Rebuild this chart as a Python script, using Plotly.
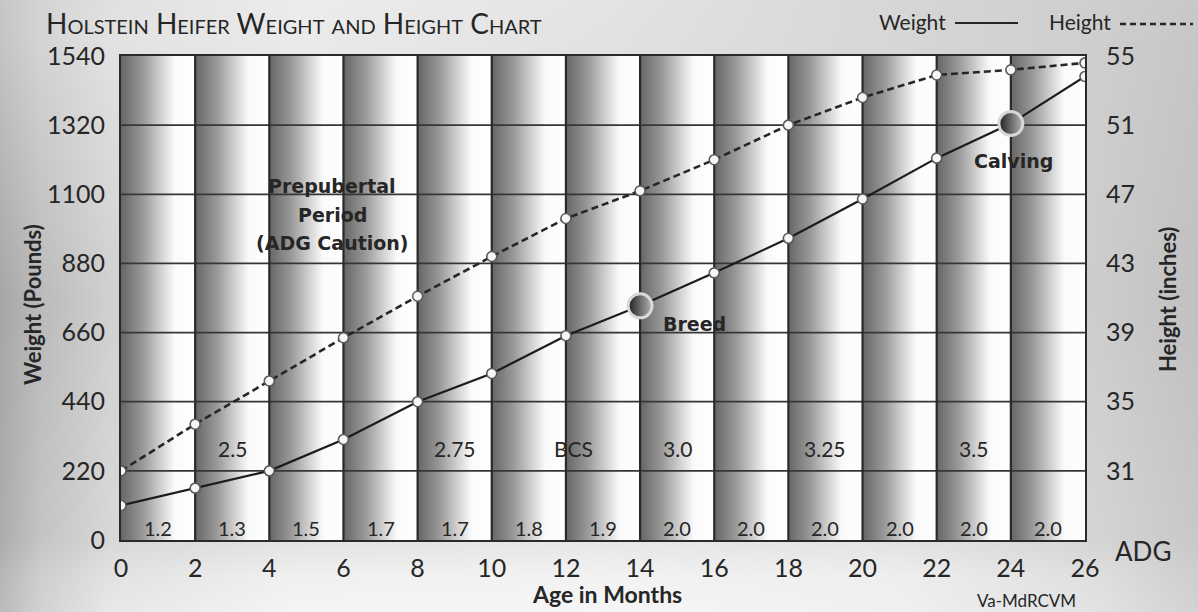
import plotly.graph_objects as go

# ---- data -------------------------------------------------------------
months = [0, 2, 4, 6, 8, 10, 12, 14, 16, 18, 20, 22, 24, 26]
weight_lb = [110, 165, 220, 320, 440, 530, 650, 745, 850, 960, 1085, 1215, 1325, 1475]
height_in = [31.0, 33.7, 36.2, 38.7, 41.1, 43.4, 45.6, 47.2, 49.0, 51.0, 52.6, 53.9, 54.2, 54.6]

# average daily gain (lb/day) for each two-month interval
adg_labels = ["1.2", "1.3", "1.5", "1.7", "1.7", "1.8", "1.9",
              "2.0", "2.0", "2.0", "2.0", "2.0", "2.0"]

# body condition score targets
bcs_months = [3, 9, 15, 19, 23]
bcs_labels = ["2.5", "2.75", "3.0", "3.25", "3.5"]

# milestones on the weight curve
milestone_months = [14, 24]
milestone_labels = ["Breed", "Calving"]

weight_ticks = [0, 220, 440, 660, 880, 1100, 1320, 1540]
height_ticks = [31, 35, 39, 43, 47, 51, 55]
month_ticks = months

# ---- page geometry (pixels) --------------------------------------------
W, H = 1198, 612
L, R, T, B = 121, 1085, 56, 540           # chart frame
FONT = "Lato"
BOLD = "DejaVu Sans"
INK = "#262626"


def px(x):
    return x / W


def py(y):
    return 1 - y / H


fig = go.Figure()

# ---- page shading: a coarse grey grid, smoothly interpolated ----------
bg_x = [0, 40, 110, 300, 600, 900, 1100, 1198]
bg_y = [0, 40, 300, 540, 575, 612]
bg_grey = [
    [198, 212, 224, 236, 228, 214, 206, 200],
    [196, 212, 226, 234, 226, 214, 206, 198],
    [166, 186, 208, 216, 216, 214, 204, 192],
    [172, 196, 216, 226, 230, 226, 212, 200],
    [182, 206, 226, 240, 242, 238, 222, 206],
    [186, 210, 232, 245, 246, 240, 226, 210],
]
fig.add_trace(go.Heatmap(
    x=bg_x, y=bg_y, z=bg_grey, xaxis="x", yaxis="y",
    colorscale=[[0, "#000000"], [1, "#ffffff"]], zmin=0, zmax=255,
    zsmooth="best", showscale=False, hoverinfo="skip"))

# ---- shaded columns (one per two-month interval) -----------------------
col_scale = [[0.0, "#666666"], [0.3, "#9a9a9a"], [0.55, "#d4d4d4"],
             [0.72, "#fafafa"], [1.0, "#ffffff"]]
for a, b in zip(months[:-1], months[1:]):
    fig.add_trace(go.Scatter(
        x=[a, b, b, a, a], y=[0, 0, 1540, 1540, 0], xaxis="x2", yaxis="y2",
        mode="lines", line=dict(width=0), fill="toself",
        fillgradient=dict(type="horizontal", colorscale=col_scale),
        hoverinfo="skip", showlegend=False))

# ---- grid lines --------------------------------------------------------
gx, gy = [], []
for v in weight_ticks[1:-1]:
    gx += [0, 26, None]
    gy += [v, v, None]
fig.add_trace(go.Scatter(x=gx, y=gy, xaxis="x2", yaxis="y2", mode="lines",
                         line=dict(color="#363636", width=1.8),
                         hoverinfo="skip", showlegend=False))
vx, vy = [], []
for m in months[1:-1]:
    vx += [m, m, None]
    vy += [0, 1540, None]
fig.add_trace(go.Scatter(x=vx, y=vy, xaxis="x2", yaxis="y2", mode="lines",
                         line=dict(color="#2a2a2a", width=2.2),
                         hoverinfo="skip", showlegend=False))

# ---- curves ------------------------------------------------------------
small_marker = dict(symbol="circle", size=10, color="#f6f6f6",
                    line=dict(color="#5a5a5a", width=1.6))

fig.add_trace(go.Scatter(
    x=months, y=height_in, xaxis="x2", yaxis="y3", mode="lines+markers",
    line=dict(color="#262626", width=2.6, dash="7px,4px"),
    marker=small_marker, name="Height", showlegend=False))

fig.add_trace(go.Scatter(
    x=months, y=weight_lb, xaxis="x2", yaxis="y2", mode="lines+markers",
    line=dict(color="#1c1c1c", width=2.2),
    marker=small_marker, name="Weight", showlegend=False))

ms_y = [weight_lb[months.index(m)] for m in milestone_months]
fig.add_trace(go.Scatter(
    x=milestone_months, y=ms_y, xaxis="x2", yaxis="y2", mode="markers",
    marker=dict(symbol="circle", size=24, color="#1e1e1e",
                gradient=dict(type="horizontal", color="#b4b4b4"),
                line=dict(color="#d8d8d8", width=3)),
    hoverinfo="skip", showlegend=False))

# legend samples
shapes = [
    dict(type="line", xref="paper", yref="paper",
         x0=px(955), x1=px(1018), y0=py(23), y1=py(23),
         line=dict(color=INK, width=2)),
    dict(type="line", xref="paper", yref="paper",
         x0=px(1120), x1=px(1193), y0=py(24), y1=py(24),
         line=dict(color=INK, width=2.4, dash="6px,4px")),
]

# ---- text --------------------------------------------------------------
ann = []


def label(text, x, y, size, xref="paper", yref="paper", xanchor="center",
          family=FONT, angle=0, **kw):
    ann.append(dict(text=text, xref=xref, yref=yref, x=x, y=y,
                    xanchor=xanchor, yanchor="middle", showarrow=False,
                    textangle=angle,
                    font=dict(family=family, size=size, color=INK, **kw)))


label("Holstein Heifer Weight and Height Chart", px(44), py(23), 28,
      xanchor="left", variant="small-caps")
label("Weight", px(948), py(22), 21, xanchor="right")
label("Height", px(1047), py(22), 21, xanchor="left")

for m0, m1, lab in zip(months[:-1], months[1:], adg_labels):
    label(lab, (m0 + m1) / 2, py(528), 20, xref="x2")
for m, lab in zip(bcs_months, bcs_labels):
    label(lab, m, py(449), 21, xref="x2")
label("BCS", 12.2, py(449), 21, xref="x2")

# prepubertal note, one line at a time
for txt, yy in zip(["Prepubertal", "Period", "(ADG Caution)"], [186, 215, 243]):
    label("<b>" + txt + "</b>", 5.7, py(yy), 19, xref="x2", family=BOLD)

for m, wy, lab in zip(milestone_months, ms_y, milestone_labels):
    if lab == "Breed":
        ann.append(dict(text="<b>" + lab + "</b>", xref="x2", yref="y2", x=m, y=wy,
                        xanchor="left", yanchor="middle", xshift=21, yshift=-18,
                        showarrow=False, font=dict(family=BOLD, size=19, color=INK)))
    else:
        ann.append(dict(text="<b>" + lab + "</b>", xref="x2", yref="y2", x=m, y=wy,
                        xanchor="center", yanchor="middle", xshift=3, yshift=-37,
                        showarrow=False, font=dict(family=BOLD, size=19, color=INK)))

# axis titles
label("<b>Weight (Pounds)</b>", px(32), py(305), 22, angle=-90)
label("<b>Height (inches)</b>", px(1167), py(300), 22, angle=-90)
label("<b>Age in Months</b>", px(607), py(594), 23)

label("ADG", px(1113), py(551), 26, xanchor="left")
label("Va-MdRCVM", px(1026), py(600), 17)

# ---- layout ------------------------------------------------------------
frame = dict(showgrid=False, zeroline=False, showline=True, mirror=True,
             linecolor="#2a2a2a", linewidth=2.2, ticks="", automargin=False,
             tickfont=dict(size=25, color=INK))
fig.update_layout(
    width=W, height=H,
    margin=dict(l=0, r=0, t=0, b=0, autoexpand=False),
    paper_bgcolor="#d0d0d0", plot_bgcolor="#ffffff",
    font=dict(family=FONT, color=INK),
    showlegend=False,
    shapes=shapes, annotations=ann,
    xaxis=dict(domain=[0, 1], range=[0, W], visible=False, fixedrange=True,
               automargin=False),
    yaxis=dict(domain=[0, 1], range=[H, 0], visible=False, fixedrange=True,
               automargin=False),
    xaxis2=dict(frame, domain=[L / W, R / W], anchor="y2", range=[0, 26],
                tickvals=month_ticks, ticklabelstandoff=5),
    yaxis2=dict(frame, domain=[1 - B / H, 1 - T / H], anchor="x2", range=[0, 1540],
                tickvals=weight_ticks, ticklabelstandoff=9),
    yaxis3=dict(range=[27, 55], tickvals=height_ticks, overlaying="y2", anchor="x2",
                side="right", showgrid=False, zeroline=False, ticks="",
                automargin=False, ticklabelstandoff=20,
                tickfont=dict(size=25, color=INK)),
)

fig.write_html("out.html")
